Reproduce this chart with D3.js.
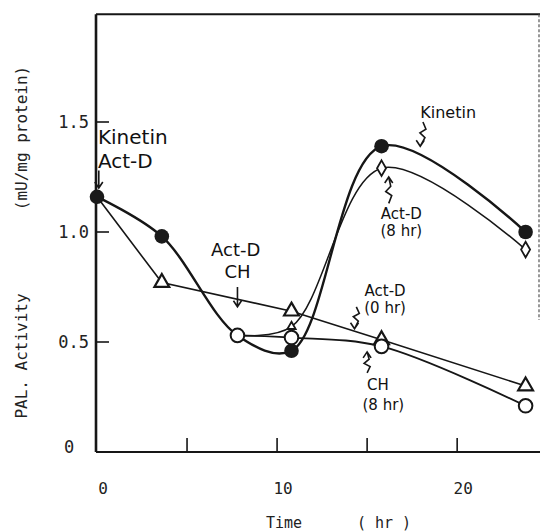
<!DOCTYPE html>
<html>
<head>
<meta charset="utf-8">
<script src="https://cdn.jsdelivr.net/npm/d3@7"></script>
<style>
  body { margin: 0; background: #fff; }
  svg { display: block; }
  .tick-label { font-family: "DejaVu Sans Mono", monospace; font-size: 17px; fill: #222; }
  .note { font-family: "DejaVu Sans", sans-serif; fill: #111; }
</style>
</head>
<body>
<div id="chart"></div>
<script>
// ---------------------------------------------------------------------------
// Data
const kinetinTime = [0, 3.6, 7.8, 10.8, 15.8, 23.8];
const kinetinValue = [1.16, 0.98, 0.53, 0.46, 1.39, 1.0];

const actD8Time = [7.8, 10.8, 15.8, 23.8];
const actD8Value = [0.53, 0.57, 1.29, 0.92];

const ch8Time = [7.8, 10.8, 15.8, 23.8];
const ch8Value = [0.53, 0.52, 0.48, 0.21];

const actD0Time = [0, 3.6, 10.8, 15.8, 23.8];
const actD0Value = [1.16, 0.77, 0.64, 0.51, 0.30];

const yTicks = [0.5, 1.0, 1.5];
const yTickLabels = ['0.5', '1.0', '1.5'];
const xTicks = [5, 10, 15, 20];
const xTickLabels = [[0, '0'], [10, '10'], [20, '20']];

// ---------------------------------------------------------------------------
// Layout
const width = 541, height = 532;
const svg = d3.select('#chart').append('svg')
  .attr('width', width)
  .attr('height', height);

const x = d3.scaleLinear().domain([0, 24.6]).range([97, 540]);
const y = d3.scaleLinear().domain([0, 2.0]).range([452, 12]);

const ink = '#161616';

// frame
svg.append('line') // left axis
  .attr('x1', 96).attr('x2', 96).attr('y1', y(1.99)).attr('y2', y(0))
  .attr('stroke', ink).attr('stroke-width', 2.6);
svg.append('line') // bottom axis
  .attr('x1', 96).attr('x2', 540).attr('y1', y(0)).attr('y2', y(0))
  .attr('stroke', ink).attr('stroke-width', 2);
svg.append('line') // top
  .attr('x1', 96).attr('x2', 540).attr('y1', y(1.99)).attr('y2', y(1.99))
  .attr('stroke', ink).attr('stroke-width', 2);
svg.append('line') // right (faint)
  .attr('x1', 539).attr('x2', 539).attr('y1', y(1.99)).attr('y2', y(0.6))
  .attr('stroke', '#555').attr('stroke-width', 1.2)
  .attr('stroke-dasharray', '3,2');

// y ticks (inward)
svg.selectAll('.ytick').data(yTicks).enter().append('line')
  .attr('x1', 96).attr('x2', 109)
  .attr('y1', d => y(d)).attr('y2', d => y(d))
  .attr('stroke', ink).attr('stroke-width', 1.6);
svg.selectAll('.ylabel').data(yTicks).enter().append('text')
  .attr('class', 'tick-label')
  .attr('x', 89).attr('y', d => y(d) + 6)
  .attr('text-anchor', 'end')
  .text((d, i) => yTickLabels[i]);
svg.append('text').attr('class', 'tick-label')
  .attr('x', 69).attr('y', y(0) + 1).attr('text-anchor', 'middle').text('0');

// x ticks (inward)
svg.selectAll('.xtick').data(xTicks).enter().append('line')
  .attr('x1', d => x(d)).attr('x2', d => x(d))
  .attr('y1', y(0)).attr('y2', y(0) - 14)
  .attr('stroke', ink).attr('stroke-width', 1.6);
svg.selectAll('.xlabel').data(xTickLabels).enter().append('text')
  .attr('class', 'tick-label')
  .attr('x', d => x(d[0]) + 6).attr('y', 494)
  .attr('text-anchor', 'middle')
  .style('font-size', '16px')
  .text(d => d[1]);

// axis titles
svg.append('text').attr('class', 'tick-label')
  .attr('x', 284).attr('y', 528).attr('text-anchor', 'middle')
  .style('font-size', '15px').text('Time');
svg.append('text').attr('class', 'tick-label')
  .attr('x', 384).attr('y', 528).attr('text-anchor', 'middle')
  .style('font-size', '15px').attr('xml:space', 'preserve').text('( hr )');
svg.append('text').attr('class', 'tick-label')
  .attr('transform', 'translate(27,356) rotate(-90)')
  .attr('text-anchor', 'middle').style('font-size', '16px')
  .text('PAL. Activity');
svg.append('text').attr('class', 'tick-label')
  .attr('transform', 'translate(27,138) rotate(-90)')
  .attr('text-anchor', 'middle').style('font-size', '16px')
  .text('(mU/mg protein)');

// ---------------------------------------------------------------------------
// Curves
const zip = (ts, vs) => ts.map((t, i) => [t, vs[i]]);
const curve = d3.line()
  .x(d => x(d[0])).y(d => y(d[1]))
  .curve(d3.curveCatmullRom.alpha(0.5));

const kinetin = zip(kinetinTime, kinetinValue);
const actD8 = zip(actD8Time, actD8Value);
const ch8 = zip(ch8Time, ch8Value);
const actD0 = zip(actD0Time, actD0Value);

// Act-D 0 hr is drawn as straight segments
svg.append('path').datum(actD0)
  .attr('d', d3.line().x(d => x(d[0])).y(d => y(d[1])))
  .attr('fill', 'none').attr('stroke', ink).attr('stroke-width', 1.6);
svg.append('path').datum(ch8).attr('d', curve)
  .attr('fill', 'none').attr('stroke', ink).attr('stroke-width', 1.8);
svg.append('path').datum(actD8).attr('d', curve)
  .attr('fill', 'none').attr('stroke', ink).attr('stroke-width', 1.5);
svg.append('path').datum(kinetin).attr('d', curve)
  .attr('fill', 'none').attr('stroke', ink).attr('stroke-width', 2.4);

// ---------------------------------------------------------------------------
// Markers
const tri = d3.symbol().type(d3.symbolTriangle);
svg.selectAll('.tri').data(actD0.slice(1)).enter().append('path')
  .attr('transform', d => `translate(${x(d[0])},${y(d[1])})`)
  .attr('d', tri.size(95)())
  .attr('fill', '#fff').attr('stroke', ink).attr('stroke-width', 2.2);

svg.selectAll('.dia').data(actD8.slice(1)).enter().append('path')
  .attr('transform', d => `translate(${x(d[0])},${y(d[1])})`)
  .attr('d', (d, i) => i === 0
    ? d3.symbol().type(d3.symbolTriangle).size(30)()
    : d3.symbol().type(d3.symbolDiamond).size(70)())
  .attr('fill', '#fff').attr('stroke', ink).attr('stroke-width', 1.8);

svg.selectAll('.open').data(ch8).enter().append('circle')
  .attr('cx', d => x(d[0])).attr('cy', d => y(d[1])).attr('r', 6.8)
  .attr('fill', '#fff').attr('stroke', ink).attr('stroke-width', 2);

svg.selectAll('.filled').data(kinetin.filter((d, i) => i !== 2)).enter()
  .append('circle')
  .attr('cx', d => x(d[0])).attr('cy', d => y(d[1])).attr('r', 7.3)
  .attr('fill', '#1a1a1a');

// ---------------------------------------------------------------------------
// Annotations
function note(t, v, txt, size, anchor) {
  svg.append('text').attr('class', 'note')
    .attr('x', x(t)).attr('y', y(v))
    .attr('text-anchor', anchor || 'middle')
    .style('font-size', size + 'px')
    .text(txt);
}

function arrow(t0, v0, t1, v1, squiggle) {
  const x0 = x(t0), y0 = y(v0), x1 = x(t1), y1 = y(v1);
  const dir = Math.sign(y1 - y0);
  let p = d3.path();
  p.moveTo(x0, y0);
  if (squiggle) {
    const len = Math.abs(y1 - y0);
    p.lineTo(x0 + 3, y0 + dir * len * 0.3);
    p.lineTo(x0 - 3, y0 + dir * len * 0.45);
    p.lineTo(x0 + 2, y0 + dir * len * 0.65);
  }
  p.lineTo(x1, y1);
  // head
  p.moveTo(x1 - 4, y1 - dir * 6);
  p.lineTo(x1, y1);
  p.lineTo(x1 + 4, y1 - dir * 6);
  svg.append('path').attr('d', p.toString())
    .attr('fill', 'none').attr('stroke', ink).attr('stroke-width', 1.6);
}

note(0.05, 1.40, 'Kinetin', 20, 'start');
note(0.05, 1.29, 'Act-D', 20, 'start');
arrow(0.1, 1.28, 0.1, 1.20, false);

note(7.7, 0.89, 'Act-D', 18);
note(7.8, 0.79, 'CH', 18);
arrow(7.8, 0.75, 7.8, 0.66, false);

note(19.5, 1.52, 'Kinetin', 16);
arrow(18.1, 1.50, 17.95, 1.39, true);

note(16.9, 1.06, 'Act-D', 15);
note(16.9, 0.98, '(8 hr)', 15);
arrow(16.2, 1.13, 16.2, 1.25, true);

note(16.0, 0.71, 'Act-D', 15);
note(16.0, 0.63, '(0 hr)', 15);
arrow(14.4, 0.66, 14.3, 0.56, true);

note(15.6, 0.28, 'CH', 15);
note(15.9, 0.19, '(8 hr)', 15);
arrow(15.0, 0.36, 15.0, 0.455, true);
</script>
</body>
</html>
